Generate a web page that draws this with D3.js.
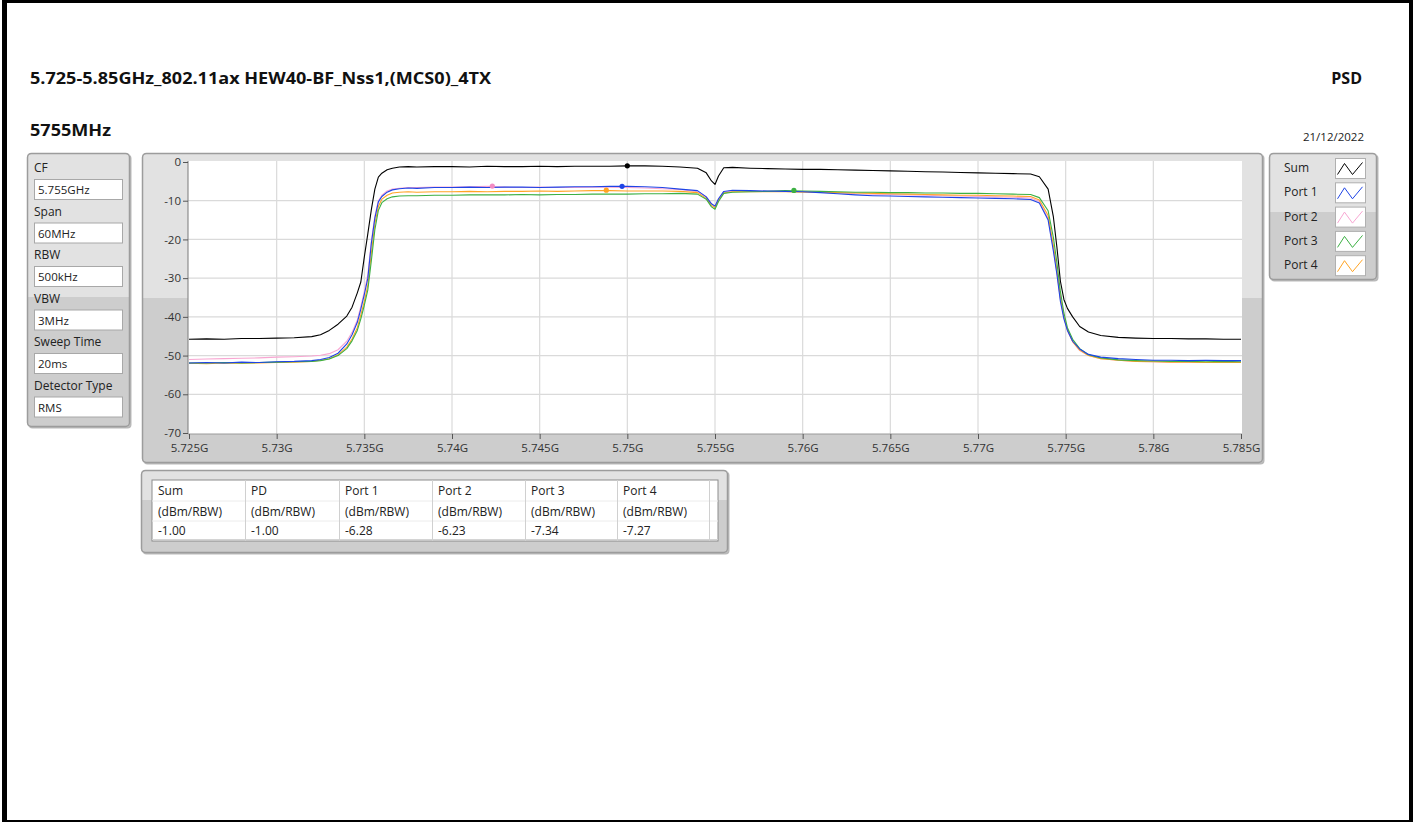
<!DOCTYPE html>
<html><head><meta charset="utf-8">
<script src="https://cdn.jsdelivr.net/npm/d3@7"></script>
<style>
html,body{margin:0;padding:0;background:#fff;}
svg{display:block;font-family:"Open Sans","Noto Sans",sans-serif;}
</style></head>
<body>
<svg id="c" width="1415" height="822"></svg>
<script>
// ---------------- DATA ----------------
const freqMHz = [
5725,5726,5727,5728,5729,5730,5731,5732,5732.5,5733,
5733.5,5734,5734.3,5734.6,5734.8,5735,5735.2,5735.4,5735.6,5735.8,
5736,5736.3,5736.6,5737,5737.5,5738,5739,5740,5741,5742,
5743,5744,5745,5746,5747,5748,5749,5750,5751,5752,
5753,5754,5754.5,5754.8,5755,5755.2,5755.5,5756,5757,5758,
5759,5760,5761,5762,5763,5764,5765,5766,5767,5768,
5769,5770,5771,5772,5773,5773.5,5774,5774.3,5774.5,5774.7,
5774.9,5775.1,5775.4,5775.8,5776.3,5777,5778,5779,5780,5781,
5782,5783,5784,5785];

const sumVals = [
-45.8,-45.7,-45.8,-45.6,-45.6,-45.5,-45.4,-45.1,-44.6,-43.5,
-41.9,-39.8,-37.5,-33.8,-31.0,-24.5,-18.5,-12.3,-7.0,-3.9,
-2.9,-2.0,-1.6,-1.3,-1.2,-1.3,-1.2,-1.2,-1.3,-1.1,
-1.2,-1.2,-1.1,-1.2,-1.1,-1.1,-1.1,-1.0,-1.0,-1.1,
-1.3,-1.6,-2.8,-4.9,-5.8,-3.6,-1.5,-1.4,-1.6,-1.7,
-1.8,-1.9,-1.9,-2.0,-2.1,-2.2,-2.3,-2.4,-2.5,-2.6,
-2.7,-2.8,-2.9,-3.0,-3.1,-3.8,-7.0,-14.2,-22.0,-30.8,
-35.5,-37.8,-40.0,-42.5,-43.9,-44.8,-45.3,-45.5,-45.6,-45.6,
-45.7,-45.7,-45.8,-45.8];

const port1Vals = [
-51.9,-51.8,-51.9,-51.7,-51.8,-51.6,-51.5,-51.3,-51.0,-50.5,
-49.4,-47.0,-44.6,-41.4,-38.0,-34.2,-30.0,-21.0,-14.5,-10.3,
-8.9,-7.8,-7.2,-6.9,-6.7,-6.8,-6.6,-6.6,-6.5,-6.6,
-6.5,-6.5,-6.6,-6.5,-6.4,-6.4,-6.3,-6.3,-6.4,-6.6,
-7.0,-7.4,-9.0,-10.8,-11.4,-9.5,-7.6,-7.3,-7.4,-7.5,
-7.6,-7.7,-7.9,-8.2,-8.5,-8.7,-8.8,-8.9,-9.0,-9.1,
-9.2,-9.3,-9.4,-9.5,-9.7,-10.6,-15.0,-23.0,-29.0,-36.0,
-40.5,-43.5,-46.3,-48.3,-49.7,-50.4,-50.8,-51.0,-51.2,-51.2,
-51.3,-51.2,-51.3,-51.3];

const port2Vals = [
-51.0,-50.9,-50.8,-50.7,-50.6,-50.4,-50.3,-50.1,-49.9,-49.5,
-48.5,-46.3,-44.0,-40.8,-37.3,-33.5,-29.0,-20.5,-14.0,-10.0,
-8.6,-7.5,-7.0,-6.8,-6.6,-6.6,-6.5,-6.5,-6.4,-6.3,
-6.5,-6.6,-6.5,-6.6,-6.6,-6.5,-6.5,-6.6,-6.7,-6.9,
-7.1,-7.7,-9.0,-10.8,-11.5,-9.6,-7.8,-7.5,-7.5,-7.6,
-7.6,-7.7,-7.8,-8.0,-8.2,-8.3,-8.4,-8.5,-8.6,-8.7,
-8.8,-8.9,-9.0,-9.1,-9.3,-10.2,-14.6,-22.5,-28.5,-35.5,
-40.2,-43.5,-46.5,-48.7,-50.0,-50.8,-51.2,-51.5,-51.6,-51.7,
-51.7,-51.8,-51.7,-51.8];

const port3Vals = [
-51.9,-51.9,-51.8,-51.9,-51.8,-51.7,-51.6,-51.5,-51.3,-50.9,
-50.0,-48.2,-46.2,-43.5,-40.5,-37.0,-33.0,-25.5,-17.5,-12.5,
-10.5,-9.5,-9.0,-8.8,-8.7,-8.7,-8.6,-8.6,-8.5,-8.5,
-8.5,-8.4,-8.5,-8.4,-8.4,-8.3,-8.3,-8.3,-8.2,-8.2,
-8.1,-8.3,-9.6,-11.6,-12.2,-10.2,-8.1,-7.8,-7.7,-7.6,
-7.4,-7.5,-7.6,-7.7,-7.8,-7.8,-7.9,-7.9,-8.0,-8.0,
-8.1,-8.1,-8.2,-8.3,-8.4,-9.2,-12.6,-19.5,-26.0,-33.5,
-39.0,-42.8,-45.8,-48.2,-49.8,-50.6,-51.1,-51.3,-51.4,-51.5,
-51.5,-51.6,-51.5,-51.6];

const port4Vals = [
-52.0,-52.1,-51.9,-52.0,-51.9,-51.8,-51.7,-51.5,-51.2,-50.8,
-49.8,-47.8,-45.7,-42.8,-39.5,-36.0,-31.8,-23.5,-16.0,-11.5,
-9.6,-8.6,-8.0,-7.8,-7.7,-7.8,-7.7,-7.7,-7.6,-7.7,
-7.6,-7.6,-7.5,-7.6,-7.5,-7.4,-7.4,-7.5,-7.5,-7.5,
-7.6,-7.9,-9.4,-11.2,-11.8,-9.9,-8.0,-7.7,-7.7,-7.7,
-7.7,-7.8,-7.8,-7.9,-8.0,-8.1,-8.2,-8.3,-8.4,-8.5,
-8.6,-8.6,-8.7,-8.8,-8.9,-9.8,-13.8,-21.5,-28.0,-35.0,
-40.0,-43.3,-46.4,-48.6,-50.0,-50.8,-51.2,-51.5,-51.6,-51.7,
-51.7,-51.8,-51.8,-51.8];

const seriesNames = ["Sum","Port 1","Port 2","Port 3","Port 4"];
const seriesColors = ["#000000","#1e44e6","#f8a6d2","#3cb043","#ffa424"];
const markerFreq = [5750.0, 5749.7, 5742.3, 5759.5, 5748.8];
const markerVals = [-1.00, -6.28, -6.23, -7.34, -7.27];

const xTicks = [5725,5730,5735,5740,5745,5750,5755,5760,5765,5770,5775,5780,5785];
const xTickLabels = ["5.725G","5.73G","5.735G","5.74G","5.745G","5.75G","5.755G","5.76G","5.765G","5.77G","5.775G","5.78G","5.785G"];
const yTicks = [0,-10,-20,-30,-40,-50,-60,-70];
const yTickLabels = ["0","-10","-20","-30","-40","-50","-60","-70"];

const paramLabels = ["CF","Span","RBW","VBW","Sweep Time","Detector Type"];
const paramValues = ["5.755GHz","60MHz","500kHz","3MHz","20ms","RMS"];

const tableHeaders = ["Sum","PD","Port 1","Port 2","Port 3","Port 4"];
const tableUnits = ["(dBm/RBW)","(dBm/RBW)","(dBm/RBW)","(dBm/RBW)","(dBm/RBW)","(dBm/RBW)"];
const tableValues = ["-1.00","-1.00","-6.28","-6.23","-7.34","-7.27"];

const titleText = "5.725-5.85GHz_802.11ax HEW40-BF_Nss1,(MCS0)_4TX";
const subTitle = "5755MHz";
const rightTitle = "PSD";
const dateText = "21/12/2022";

// ---------------- DRAW ----------------
const svg = d3.select("#c");
const LIGHT = "#e2e2e2", DARK = "#cdcdcd", EDGE = "#9c9c9c";

// outer frame
svg.append("rect").attr("x",0).attr("y",0).attr("width",1415).attr("height",822).attr("fill","#fff");
svg.append("rect").attr("x",2).attr("y",0).attr("width",5).attr("height",822).attr("fill","#000");
svg.append("rect").attr("x",2).attr("y",0).attr("width",1411).attr("height",3).attr("fill","#000");
svg.append("rect").attr("x",1409).attr("y",0).attr("width",4).attr("height",822).attr("fill","#000");
svg.append("rect").attr("x",2).attr("y",820).attr("width",1411).attr("height",2).attr("fill","#000");

// titles
svg.append("text").attr("x",30).attr("y",84).attr("font-size",16).attr("font-weight","bold")
  .attr("fill","#111").attr("textLength",461).attr("lengthAdjust","spacingAndGlyphs").text(titleText);
svg.append("text").attr("x",30).attr("y",136).attr("font-size",16).attr("font-weight","bold")
  .attr("fill","#111").attr("textLength",81).attr("lengthAdjust","spacingAndGlyphs").text(subTitle);
svg.append("text").attr("x",1362).attr("y",84).attr("font-size",16).attr("font-weight","bold")
  .attr("fill","#111").attr("text-anchor","end").text(rightTitle);
svg.append("text").attr("x",1364).attr("y",141).attr("font-size",11.5)
  .attr("fill","#222").attr("text-anchor","end").text(dateText);

const defs = svg.append("defs");
let clipId = 0;
function panel(x, y, w, h, split) {
  const id = "pc" + (clipId++);
  defs.append("clipPath").attr("id", id).append("rect")
    .attr("x", x).attr("y", y).attr("width", w).attr("height", h).attr("rx", 4);
  svg.append("rect").attr("x", x+1.5).attr("y", y+1.5).attr("width", w).attr("height", h)
    .attr("rx", 4).attr("fill", "#b9b9b9");
  const g = svg.append("g").attr("clip-path", `url(#${id})`);
  g.append("rect").attr("x", x).attr("y", y).attr("width", w).attr("height", h).attr("fill", DARK);
  g.append("rect").attr("x", x).attr("y", y).attr("width", w).attr("height", split - y).attr("fill", LIGHT);
  svg.append("rect").attr("x", x+0.5).attr("y", y+0.5).attr("width", w-1).attr("height", h-1)
    .attr("rx", 4).attr("fill", "none").attr("stroke", EDGE).attr("stroke-width", 1.5);
}

// ---- parameter panel
panel(27, 153, 103, 274, 297);
paramLabels.forEach((lab, i) => {
  const cy = 168 + i * 43.5;
  svg.append("text").attr("x", 34).attr("y", cy + 4).attr("font-size", 12).attr("fill", "#222").text(lab);
  svg.append("rect").attr("x", 34.5).attr("y", cy + 11.5).attr("width", 88).attr("height", 20)
    .attr("fill", "#fff").attr("stroke", "#a8a8a8");
  svg.append("text").attr("x", 38).attr("y", cy + 26).attr("font-size", 11.5).attr("fill", "#222").text(paramValues[i]);
});

// ---- graph panel
panel(142, 153, 1121, 310, 298);
const x = d3.scaleLinear().domain([5725, 5785]).range([189, 1241]);
const y = d3.scaleLinear().domain([-70, 0]).range([433, 162]);

svg.append("rect").attr("x", 188).attr("y", 161).attr("width", 1054).attr("height", 273).attr("fill", "#fff");

// grid
const grid = svg.append("g");
grid.selectAll("line.vx").data(xTicks.slice(1, -1)).join("line")
  .attr("x1", d => x(d)).attr("x2", d => x(d)).attr("y1", 161).attr("y2", 434)
  .attr("stroke", "#dadada").attr("stroke-width", 1.2);
grid.selectAll("line.hy").data(yTicks.slice(1, -1)).join("line")
  .attr("y1", d => y(d)).attr("y2", d => y(d)).attr("x1", 188).attr("x2", 1242)
  .attr("stroke", "#dadada").attr("stroke-width", 1.2);

// axes
const yAxis = d3.axisLeft(y).tickValues(yTicks).tickFormat((d, i) => yTickLabels[i]).tickSize(5).tickPadding(2);
const gy = svg.append("g").attr("transform", "translate(188,0)").call(yAxis);
gy.select(".domain").attr("stroke", "#7a7a7a").attr("d", "M0,161V434");
gy.selectAll(".tick line").attr("stroke", "#555");
gy.selectAll("text").attr("font-size", 11.5).attr("fill", "#333").attr("font-family", "Open Sans");

const xAxis = d3.axisBottom(x).tickValues(xTicks).tickFormat((d, i) => xTickLabels[i]).tickSize(5).tickPadding(5);
const gx = svg.append("g").attr("transform", "translate(0,434)").call(xAxis);
gx.select(".domain").attr("stroke", "#9a9a9a").attr("d", "M188,0H1242");
gx.selectAll(".tick line").attr("stroke", "#555");
gx.selectAll("text").attr("font-size", 11.5).attr("fill", "#333").attr("font-family", "Open Sans");

// traces
const allVals = [sumVals, port1Vals, port2Vals, port3Vals, port4Vals];
const line = d3.line().x((d, i) => x(freqMHz[i])).y(d => y(d));
const plotClipId = "plotclip";
defs.append("clipPath").attr("id", plotClipId).append("rect").attr("x", 188).attr("y", 158).attr("width", 1055).attr("height", 277);
const traces = svg.append("g").attr("clip-path", `url(#${plotClipId})`);
const drawOrder = [2, 4, 3, 1, 0];
drawOrder.forEach(k => {
  traces.append("path").datum(allVals[k]).attr("d", line).attr("fill", "none")
    .attr("stroke", seriesColors[k]).attr("stroke-width", 1.1).attr("stroke-linejoin", "round");
});
drawOrder.forEach(k => {
  traces.append("circle").attr("cx", x(markerFreq[k])).attr("cy", y(markerVals[k])).attr("r", 2.6)
    .attr("fill", seriesColors[k] === "#f8a6d2" ? "#f28cc4" : seriesColors[k]);
});

// ---- legend panel
panel(1269, 153, 108, 127, 212);
seriesNames.forEach((nm, i) => {
  const cy = 168 + i * 24.3;
  svg.append("text").attr("x", 1284).attr("y", cy + 4).attr("font-size", 12).attr("fill", "#222").text(nm);
  const bx = 1335.5, by = cy - 9.5, bw = 30, bh = 20;
  svg.append("rect").attr("x", bx).attr("y", by).attr("width", bw).attr("height", bh)
    .attr("fill", "#fff").attr("stroke", "#b0b0b0");
  const pts = [[bx + 2, by + bh - 4], [bx + 9, by + 5], [bx + 17, by + bh - 4], [bx + 27, by + 4]];
  svg.append("path").attr("d", d3.line()(pts)).attr("fill", "none").attr("stroke", seriesColors[i]).attr("stroke-width", 1);
});

// ---- results table
panel(141, 470, 587, 83, 500);
const colX = [152, 245, 339, 432, 525, 617, 709];
svg.append("rect").attr("x", 152).attr("y", 480).attr("width", 566).attr("height", 61).attr("fill", "#fff")
  .attr("stroke", "#8c8c8c");
[501, 521].forEach(yy => svg.append("line").attr("x1", 152).attr("x2", 718).attr("y1", yy).attr("y2", yy).attr("stroke", "#ececec"));
svg.append("line").attr("x1", 152).attr("x2", 718).attr("y1", 539.5).attr("y2", 539.5).attr("stroke", "#d4d4d4");
colX.slice(1).forEach(cx => svg.append("line").attr("x1", cx + 0.5).attr("x2", cx + 0.5).attr("y1", 480).attr("y2", 541).attr("stroke", "#d0d0d0"));
const rows = [tableHeaders, tableUnits, tableValues];
const rowY = [494.5, 515.5, 535];
rows.forEach((r, ri) => r.forEach((t, ci) => {
  svg.append("text").attr("x", colX[ci] + 6).attr("y", rowY[ri]).attr("font-size", 12).attr("fill", "#222").text(t);
}));
</script>
</body></html>
